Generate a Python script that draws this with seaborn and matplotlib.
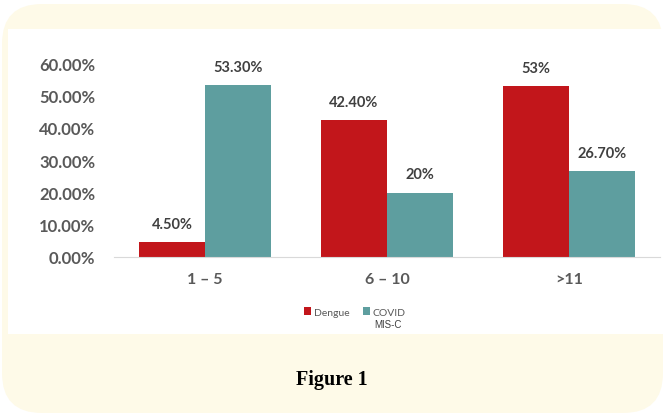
import matplotlib
matplotlib.use("Agg")
import matplotlib.pyplot as plt
from matplotlib.patches import FancyBboxPatch, Rectangle, Patch
import seaborn as sns
import pandas as pd

# ---- data ----
categories = ["1 – 5", "6 – 10", ">11"]
series_names = ["Dengue", "COVID MIS-C"]
dengue_values = [4.5, 42.4, 53.0]
covid_values = [53.3, 20.0, 26.7]
dengue_labels = ["4.50%", "42.40%", "53%"]
covid_labels = ["53.30%", "20%", "26.70%"]
y_ticks = [0, 10, 20, 30, 40, 50, 60]
y_tick_labels = ["0.00%", "10.00%", "20.00%", "30.00%", "40.00%", "50.00%", "60.00%"]
legend_labels = ["Dengue", "COVID"]
legend_sub = "MIS-C"
caption = "Figure 1"

df = pd.DataFrame({
    "group": categories * 2,
    "series": [series_names[0]] * 3 + [series_names[1]] * 3,
    "value": dengue_values + covid_values,
})

RED = "#C2161B"
TEAL = "#5E9E9F"
CREAM = "#FEFAE8"
TXT = "#595959"

sns.set_theme(style="white")
plt.rcParams["font.family"] = ["Lato", "DejaVu Sans"]

W, H = 664, 414
fig = plt.figure(figsize=(W / 100, H / 100), dpi=100)
fig.patch.set_facecolor("white")

# cream rounded background
bg = FancyBboxPatch((2 / W, 0.0 / H), (W - 3) / W, (H - 5) / H,
                    boxstyle="round,pad=0,rounding_size=0.06",
                    transform=fig.transFigure, facecolor=CREAM, edgecolor="none",
                    mutation_aspect=W / H, zorder=0)
fig.patches.append(bg)
# white inner panel
panel = Rectangle((8 / W, 1 - 335 / H), (W - 8) / W, (335 - 30) / H,
                  transform=fig.transFigure, facecolor="white", edgecolor="none", zorder=0.5)
fig.patches.append(panel)

ax = fig.add_axes([114 / W, 1 - 258 / H, 546 / W, (258 - 64.5) / H])
ax.set_zorder(3)
ax.set_facecolor("none")

sns.barplot(data=df, x="group", y="value", hue="series", order=categories,
            hue_order=series_names, palette=[RED, TEAL], width=0.725, gap=0,
            dodge=True, ax=ax, legend=False, saturation=1, edgecolor="none")

ax.set_xlim(-0.5, 2.5)
ax.set_ylim(0, 60)
ax.set_yticks(y_ticks)
ax.set_yticklabels(y_tick_labels)
ax.set_xlabel("")
ax.set_ylabel("")

for s in ["top", "right", "left"]:
    ax.spines[s].set_visible(False)
ax.spines["bottom"].set_color("#D9D9D9")
ax.spines["bottom"].set_linewidth(0.8)

ax.tick_params(axis="y", length=0, pad=13.5, labelsize=12, labelcolor=TXT)
ax.tick_params(axis="x", length=0, pad=11, labelsize=11.5, labelcolor=TXT)
for lab in ax.get_yticklabels() + ax.get_xticklabels():
    lab.set_fontweight("bold")

for container, labels in zip(ax.containers, [dengue_labels, covid_labels]):
    ax.bar_label(container, labels=labels, padding=8, fontsize=10.5,
                 fontweight="bold", color="#404040")

handles = [Patch(facecolor=RED, edgecolor="none"), Patch(facecolor=TEAL, edgecolor="none")]
leg = fig.legend(handles, legend_labels, loc="center", bbox_to_anchor=(355 / W, 1 - 313 / H),
                 ncol=2, frameon=False, fontsize=7.5, handlelength=0.7, handleheight=0.7,
                 handletextpad=0.3, columnspacing=1.2, labelcolor=TXT)
leg.set_zorder(5)
fig.text(388 / W, 1 - 325 / H, legend_sub, ha="center", va="center", fontsize=7,
         color="#404040", family=["Liberation Sans", "DejaVu Sans"], zorder=5)

fig.text(332 / W, 1 - 380 / H, caption, ha="center", va="center", fontsize=14.5,
         fontweight="bold", color="black", family=["Liberation Serif", "DejaVu Serif"],
         zorder=5)

fig.savefig("out.png", dpi=100, facecolor=fig.get_facecolor())
